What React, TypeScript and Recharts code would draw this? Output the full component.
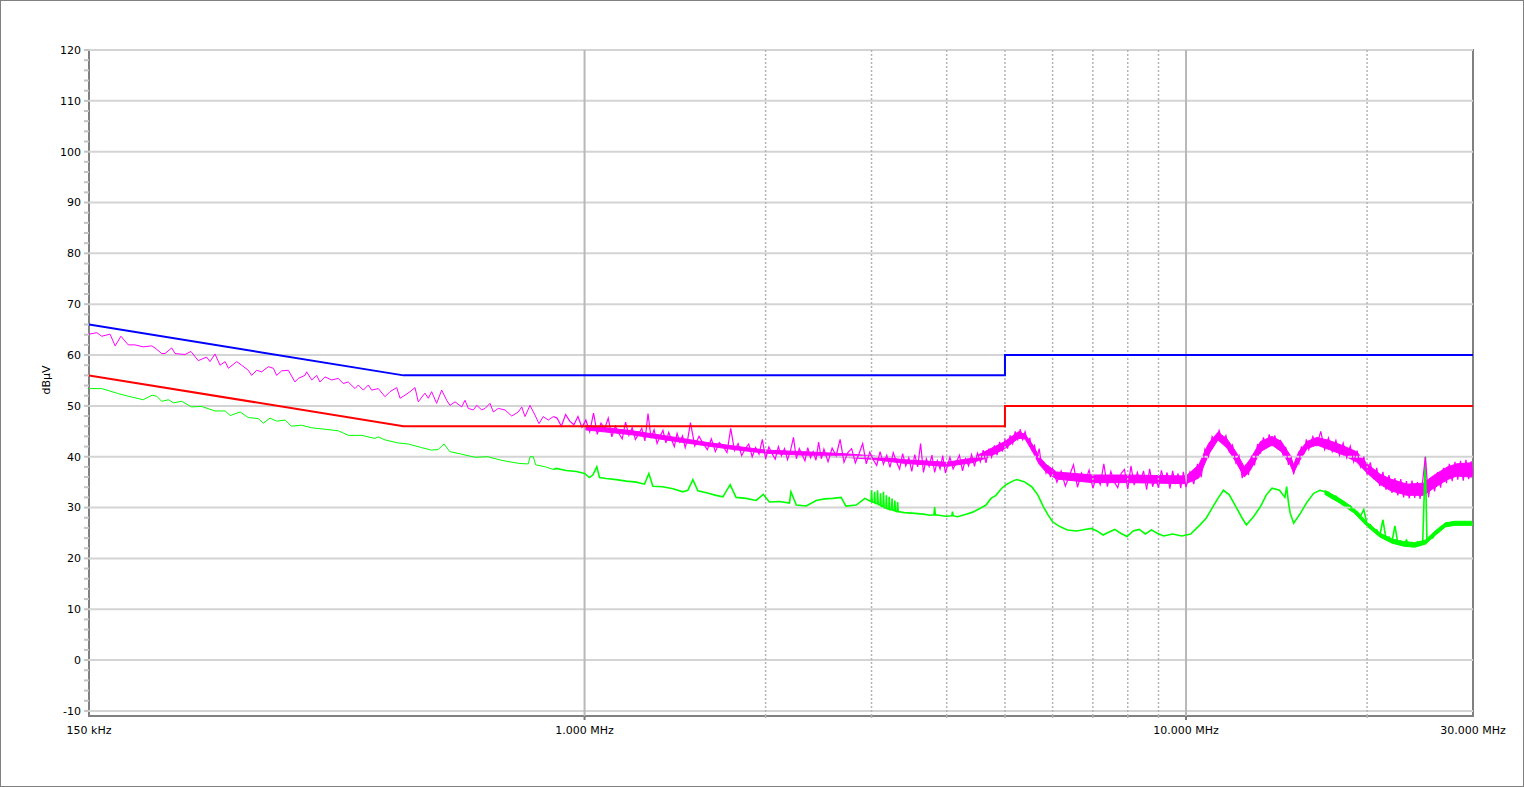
import React from 'react';
import { ComposedChart, Line, Area, XAxis, YAxis, ReferenceLine, ReferenceArea } from 'recharts';

const FONT = '"DejaVu Sans", Verdana, Tahoma, sans-serif';

// Limit lines, frequency in MHz, level in dBµV
const limitFreq = [0.15, 0.5, 5, 5, 30];
const qpLimit = [66, 56, 56, 60, 60];
const avLimit = [56, 46, 46, 50, 50];

// Peak (magenta) trace, [MHz, dBµV]
const peakScanA: [number, number][] = [
  [0.150, 64.1], [0.1545, 64.4], [0.1575, 63.7], [0.1626, 64.1], [0.1658, 61.8], [0.1695, 63.7], [0.1743, 62.0], [0.1788, 62.0],
  [0.1846, 61.6], [0.1907, 61.8], [0.1931, 61.4], [0.1981, 60.3], [0.2007, 60.3], [0.2059, 61.4], [0.2085, 60.3], [0.2166, 60.1],
  [0.2216, 60.7], [0.2279, 58.9], [0.2353, 59.6], [0.2383, 58.7], [0.2430, 60.2], [0.2477, 58.0], [0.2526, 58.7], [0.2558, 57.4],
  [0.2641, 58.7], [0.2691, 58.0], [0.2760, 57.0], [0.2796, 56.0], [0.2850, 57.0], [0.2905, 56.7], [0.2980, 57.7], [0.3038, 57.4],
  [0.3077, 56.0], [0.3137, 56.9], [0.3217, 57.0], [0.3300, 54.7], [0.3342, 55.4], [0.3429, 56.0], [0.3451, 56.7], [0.3519, 55.1],
  [0.3586, 56.0], [0.3631, 54.7], [0.3702, 55.7], [0.3798, 55.1], [0.3896, 55.4], [0.3970, 54.4], [0.4047, 54.7], [0.4153, 53.4],
  [0.4206, 54.1], [0.4287, 53.1], [0.4370, 54.1], [0.4426, 53.1], [0.4541, 53.4], [0.4658, 51.8], [0.4748, 52.8], [0.4872, 53.6],
  [0.4934, 51.5], [0.5030, 52.1], [0.5127, 52.8], [0.5225, 53.6], [0.5291, 50.8], [0.5428, 52.5], [0.5498, 51.5], [0.5569, 52.8],
  [0.5676, 50.5], [0.5787, 53.1], [0.5899, 51.1], [0.5975, 50.1], [0.6090, 50.8], [0.6248, 49.8], [0.6327, 51.1], [0.6408, 49.5],
  [0.6533, 49.2], [0.6618, 50.1], [0.6746, 49.2], [0.6831, 49.5], [0.6963, 50.5], [0.7052, 48.8], [0.7188, 49.5], [0.7374, 49.2],
  [0.7568, 48.0], [0.7760, 48.8], [0.7862, 49.8], [0.7961, 47.9], [0.8115, 50.1], [0.8271, 48.2], [0.8400, 46.5], [0.8538, 47.9],
  [0.8704, 47.2], [0.8873, 47.9],
];
const peakScanB: [number, number][] = [
  [0.900, 47.6], [0.915, 46.0], [0.930, 48.3], [0.945, 47.0], [0.960, 46.3], [0.975, 47.9], [0.990, 45.8], [1.005, 47.2],
  [1.020, 44.9], [1.035, 48.6], [1.050, 44.4], [1.065, 46.6], [1.080, 45.5], [1.095, 47.6], [1.110, 43.9], [1.125, 46.0],
  [1.140, 44.6], [1.155, 43.5], [1.170, 46.8], [1.185, 44.2], [1.200, 45.7], [1.215, 43.4], [1.230, 44.5], [1.245, 45.6],
  [1.260, 43.1], [1.275, 48.5], [1.290, 43.6], [1.305, 45.3], [1.320, 42.6], [1.335, 44.0], [1.350, 45.2], [1.365, 42.7],
  [1.380, 44.8], [1.395, 43.4], [1.410, 42.0], [1.425, 44.6], [1.440, 42.9], [1.455, 44.1], [1.470, 41.8], [1.485, 43.6],
  [1.500, 46.7],
];
const peakScanC: [number, number][] = [
  [1.525, 42.1], [1.550, 44.0], [1.575, 42.6], [1.600, 41.4], [1.625, 43.5], [1.650, 41.0], [1.675, 42.8], [1.700, 42.0],
  [1.725, 40.8], [1.750, 45.6], [1.775, 41.2], [1.800, 42.6], [1.825, 40.2], [1.850, 41.6], [1.875, 42.5], [1.900, 40.0],
  [1.925, 41.8], [1.950, 40.5], [1.975, 43.4], [2.000, 39.6], [2.025, 41.9], [2.050, 40.6], [2.075, 39.5], [2.100, 42.0],
  [2.125, 40.2], [2.150, 41.6], [2.175, 39.4], [2.200, 41.2], [2.225, 43.8], [2.250, 39.6], [2.275, 41.6], [2.300, 40.4],
  [2.325, 39.2], [2.350, 41.8], [2.375, 39.8], [2.400, 41.0], [2.425, 39.3], [2.450, 42.9], [2.475, 39.6], [2.500, 41.5],
];
const peakScanD: [number, number][] = [
  [2.54, 39.0], [2.58, 41.7], [2.62, 40.2], [2.66, 43.4], [2.70, 38.9], [2.74, 40.8], [2.78, 41.6], [2.82, 38.8],
  [2.86, 40.6], [2.90, 42.6], [2.94, 38.6], [2.98, 40.9], [3.02, 39.4], [3.06, 38.3], [3.10, 41.0], [3.14, 38.5],
  [3.18, 40.3], [3.22, 37.9], [3.26, 40.8], [3.30, 39.0], [3.34, 37.6], [3.38, 40.6], [3.42, 38.2], [3.46, 39.8],
  [3.50, 37.1], [3.54, 40.4], [3.58, 38.0], [3.62, 42.6], [3.66, 36.9], [3.70, 39.6], [3.74, 38.1], [3.78, 40.3],
  [3.82, 36.9], [3.86, 39.2], [3.90, 37.6], [3.94, 40.2], [3.98, 36.8],
];
const peakScanE: [number, number][] = [
  [4.05, 39.9], [4.10, 37.6], [4.15, 38.9], [4.20, 40.3], [4.25, 37.2], [4.30, 39.6], [4.35, 38.2], [4.40, 40.4],
  [4.45, 38.1], [4.50, 40.7], [4.55, 39.0], [4.60, 41.3], [4.65, 38.8], [4.70, 41.6], [4.75, 39.9], [4.80, 42.2],
  [4.85, 40.3], [4.90, 42.9], [4.95, 41.0], [5.00, 43.3], [5.05, 41.6], [5.10, 44.2], [5.15, 42.6], [5.20, 45.0],
  [5.25, 43.2], [5.30, 45.4], [5.35, 43.4], [5.40, 44.9], [5.45, 43.0], [5.50, 43.6], [5.55, 41.2], [5.60, 42.2],
  [5.65, 39.6], [5.70, 41.6], [5.75, 38.4], [5.80, 38.9], [5.85, 36.8], [5.90, 38.0], [5.95, 36.0], [6.00, 37.6],
];
const peakScanF: [number, number][] = [
  [6.1, 35.0], [6.2, 37.2], [6.3, 34.2], [6.4, 36.3], [6.5, 38.4], [6.6, 34.0], [6.7, 36.8], [6.8, 35.2],
  [6.9, 37.4], [7.0, 33.8], [7.1, 36.2], [7.2, 34.5], [7.3, 38.6], [7.4, 34.1], [7.5, 37.1], [7.6, 35.0],
  [7.7, 33.9], [7.8, 36.7], [7.9, 37.5], [8.0, 33.6], [8.1, 38.2], [8.2, 34.4], [8.3, 36.9], [8.4, 35.1],
  [8.5, 37.2], [8.6, 33.5], [8.7, 37.6], [8.8, 34.1], [8.9, 36.0], [9.0, 33.9], [9.1, 37.3], [9.2, 35.0],
  [9.3, 36.9], [9.4, 33.7], [9.5, 37.2], [9.6, 34.6], [9.7, 36.7], [9.8, 33.8], [9.9, 37.0], [10.0, 34.0],
];
const peakScanG: [number, number][] = [
  [10.15, 37.0], [10.30, 34.6], [10.45, 38.6], [10.60, 36.0], [10.75, 41.5], [10.90, 40.0], [11.05, 44.0], [11.20, 42.8],
  [11.35, 45.2], [11.50, 43.0], [11.65, 44.2], [11.80, 41.0], [11.95, 42.3], [12.10, 38.8], [12.25, 40.2], [12.40, 35.8],
  [12.55, 38.2], [12.70, 36.4], [12.85, 40.2], [13.00, 38.3], [13.15, 42.5], [13.30, 40.6], [13.45, 43.8], [13.60, 41.7],
  [13.75, 44.4], [13.90, 42.1], [14.05, 44.2], [14.20, 41.5], [14.35, 43.3], [14.50, 40.4], [14.65, 41.9], [14.80, 38.4],
  [14.95, 39.8], [15.10, 36.5], [15.25, 39.6], [15.40, 38.6], [15.55, 42.0], [15.70, 40.5], [15.85, 43.4], [16.00, 41.4],
];
const peakScanH: [number, number][] = [
  [16.25, 44.0], [16.50, 42.2], [16.75, 45.0], [17.00, 41.4], [17.25, 43.7], [17.50, 41.0], [17.75, 43.2], [18.00, 40.3],
  [18.25, 42.7], [18.50, 39.8], [18.75, 42.1], [19.00, 39.0], [19.25, 41.2], [19.50, 38.0], [19.75, 40.0], [20.00, 36.5],
  [20.25, 38.9], [20.50, 35.6], [20.75, 37.8], [21.00, 34.2], [21.25, 37.0], [21.50, 33.5], [21.75, 36.4], [22.00, 32.9],
  [22.25, 35.8], [22.50, 32.4], [22.75, 35.6], [23.00, 32.0], [23.25, 35.2], [23.50, 31.8], [23.75, 35.3], [24.00, 31.9],
  [24.25, 35.0], [24.50, 31.7], [24.75, 35.4], [25.00, 40.0],
];
const peakScanI: [number, number][] = [
  [25.30, 32.0], [25.60, 36.0], [25.90, 33.2], [26.20, 37.0], [26.50, 33.9], [26.80, 37.8], [27.10, 34.8], [27.40, 38.6],
  [27.70, 35.2], [28.00, 39.0], [28.30, 35.5], [28.60, 39.2], [28.90, 35.3], [29.20, 39.4], [29.50, 35.6], [29.80, 39.1],
  [30.00, 36.0],
];

// Dense core of the peak trace, [MHz, low dBµV, high dBµV]
const peakCore: [number, number, number][] = [
  [1.0, 45.3, 46.2], [1.2, 44.3, 45.1], [1.4, 43.1, 43.9], [1.6, 42.1, 42.8], [1.8, 41.3, 42.0], [2.0, 40.7, 41.3],
  [2.3, 40.3, 41.0], [2.7, 39.9, 40.6], [3.0, 39.5, 40.2], [3.4, 38.7, 39.4], [4.0, 38.1, 38.9], [4.4, 38.8, 39.7],
  [4.7, 39.9, 41.4], [5.0, 41.6, 43.0], [5.26, 43.6, 44.9], [5.4, 43.5, 44.4], [5.57, 40.8, 42.2], [5.7, 38.5, 40.0],
  [5.85, 37.0, 38.5], [6.09, 35.6, 37.0], [7.0, 34.9, 36.4], [8.0, 34.9, 36.4], [9.0, 34.8, 36.3], [10.0, 34.7, 36.2],
  [10.5, 35.8, 38.4], [10.9, 40.4, 42.6], [11.3, 43.3, 44.8], [11.7, 41.7, 43.5], [12.1, 39.0, 41.0], [12.5, 36.0, 38.0],
  [12.8, 37.4, 39.6], [13.3, 41.0, 43.0], [13.9, 42.3, 44.0], [14.4, 41.0, 43.0], [14.9, 38.4, 40.3], [15.1, 36.8, 38.4],
  [15.4, 39.0, 41.0], [15.9, 41.6, 43.0], [16.5, 42.3, 43.8], [17.3, 41.4, 43.2], [18.2, 40.4, 42.2], [19.2, 39.0, 41.0],
  [20.0, 36.8, 38.6], [21.0, 34.6, 36.6], [21.9, 33.3, 35.6], [23.3, 32.4, 34.6], [24.8, 32.4, 34.8], [25.8, 33.8, 36.3],
  [27.2, 35.5, 38.0], [28.2, 36.2, 38.6], [29.8, 36.0, 38.8], [30.0, 36.0, 38.8],
];

// Average (green) trace, [MHz, dBµV]
const avgScanA: [number, number][] = [
  [0.150, 53.4], [0.1575, 53.4], [0.168, 52.4], [0.1743, 51.9], [0.1846, 51.2], [0.191, 52.1], [0.1944, 51.9], [0.1981, 50.9],
  [0.2033, 51.2], [0.2073, 50.6], [0.2140, 50.9], [0.2221, 49.8], [0.2307, 49.9], [0.2430, 49.0], [0.2526, 49.0], [0.2575, 48.1],
  [0.2676, 48.8], [0.2760, 47.7], [0.2869, 47.5], [0.2924, 46.6], [0.2999, 47.6], [0.3077, 47.0], [0.318, 47.2], [0.3255, 46.0],
  [0.3382, 46.2], [0.3514, 45.7], [0.3702, 45.4], [0.3896, 45.1], [0.4049, 44.2], [0.4261, 44.2], [0.4479, 43.6], [0.4541, 43.9],
  [0.466, 43.3], [0.4903, 42.7], [0.5093, 42.5], [0.5354, 41.8], [0.5563, 41.3], [0.5707, 41.4], [0.5840, 42.5], [0.5968, 41.0],
  [0.6248, 40.5], [0.6570, 39.9], [0.6907, 40.0], [0.7268, 39.3], [0.776, 38.7], [0.7961, 38.6], [0.8063, 38.6], [0.8115, 40.0],
  [0.8219, 40.0], [0.8293, 38.4], [0.8612, 38.0], [0.8873, 37.5],
];
const avgScanB: [number, number][] = [
  [0.897, 37.7], [0.932, 37.3], [0.969, 37.1], [1.0, 36.7], [1.019, 35.9], [1.032, 36.4], [1.048, 38.0], [1.059, 35.9],
  [1.086, 35.7], [1.129, 35.5], [1.173, 35.2], [1.219, 35.0], [1.258, 34.6], [1.279, 36.7], [1.299, 34.2], [1.349, 34.1],
  [1.403, 33.7], [1.457, 33.1], [1.485, 33.4], [1.514, 35.5], [1.543, 33.3], [1.594, 32.9], [1.655, 32.4], [1.698, 32.1],
  [1.746, 34.5], [1.786, 32.0], [1.856, 31.8], [1.929, 31.4], [1.982, 32.6], [2.029, 31.1], [2.109, 31.2], [2.191, 30.9],
  [2.204, 33.1], [2.249, 30.5], [2.336, 30.3], [2.428, 31.4], [2.506, 31.7], [2.586, 31.8], [2.670, 32.0], [2.720, 30.3],
  [2.830, 30.5], [2.924, 31.8], [2.981, 31.3],
];
const avgScanC: [number, number][] = [
  [2.995, 31.2], [3.00, 33.4], [3.008, 31.1], [3.03, 31.0], [3.035, 33.1], [3.043, 30.8], [3.065, 30.8], [3.07, 33.4],
  [3.078, 30.6], [3.10, 30.5], [3.105, 32.8], [3.113, 30.3], [3.135, 30.2], [3.14, 33.1], [3.148, 30.0], [3.17, 29.9],
  [3.175, 32.4], [3.183, 29.8], [3.205, 29.7], [3.21, 32.1], [3.218, 29.6], [3.24, 29.6], [3.245, 31.8], [3.253, 29.5],
  [3.275, 29.4], [3.28, 31.4], [3.288, 29.3], [3.31, 29.2], [3.315, 31.1], [3.323, 29.2], [3.40, 29.0], [3.50, 28.9],
  [3.66, 28.7], [3.75, 28.5], [3.81, 28.6], [3.82, 30.1], [3.83, 28.6], [3.99, 28.3], [4.08, 28.4], [4.09, 29.2],
  [4.10, 28.4], [4.17, 28.2], [4.31, 28.7], [4.42, 29.1], [4.54, 29.8], [4.65, 30.5], [4.74, 31.8], [4.83, 32.4],
  [4.93, 33.7], [5.02, 34.5], [5.15, 35.2], [5.23, 35.5],
];
const avgScanD: [number, number][] = [
  [5.38, 35.1], [5.54, 34.1], [5.67, 32.5], [5.79, 30.2], [5.90, 28.5], [6.0, 27.2], [6.14, 26.4], [6.35, 25.6],
  [6.58, 25.4], [6.79, 25.7], [6.96, 25.9], [7.11, 25.4], [7.28, 24.6], [7.45, 25.2], [7.61, 25.7], [7.80, 24.9],
  [7.98, 24.3], [8.17, 25.4], [8.36, 25.7], [8.56, 24.8], [8.76, 25.6], [8.97, 24.9], [9.18, 24.4], [9.50, 24.8],
  [9.84, 24.4], [10.18, 24.8], [10.55, 26.6], [10.8, 27.9], [11.0, 29.5], [11.3, 31.8], [11.54, 33.4], [11.8, 32.5],
  [12.1, 30.2], [12.4, 27.9], [12.6, 26.6], [12.95, 28.2], [13.3, 30.2], [13.6, 32.5], [13.9, 33.8], [14.3, 33.4],
  [14.6, 32.0], [14.7, 34.1], [14.8, 31.0], [14.9, 28.9], [15.1, 26.9], [15.5, 28.9], [15.9, 31.1], [16.3, 32.8],
  [16.7, 33.4], [17.0, 33.1],
];
const avgScanE: [number, number][] = [
  [17.25, 33.0], [17.50, 32.3], [17.75, 32.2], [18.00, 31.3], [18.25, 31.2], [18.50, 30.4], [18.75, 30.3], [19.00, 29.3],
  [19.25, 29.2], [19.50, 28.3], [19.75, 29.6], [20.00, 26.7], [20.25, 26.6], [20.50, 25.5], [20.75, 25.6], [21.00, 24.5],
  [21.25, 27.6], [21.50, 23.9], [21.75, 24.2], [22.00, 23.3], [22.25, 26.4], [22.50, 23.0], [22.75, 23.4], [23.00, 22.7],
  [23.25, 23.6], [23.50, 22.6], [23.75, 23.1], [24.00, 22.5], [24.25, 23.2], [24.50, 22.6], [24.75, 23.3], [25.00, 40.0],
  [25.15, 23.2], [25.40, 23.9], [25.70, 24.0], [26.00, 25.0], [26.30, 25.2], [26.60, 26.2], [26.90, 26.3], [27.20, 27.0],
  [27.50, 26.6], [27.80, 27.1], [28.10, 26.7], [28.40, 27.1], [28.70, 26.7], [29.00, 27.2], [29.30, 26.6], [29.60, 27.1],
  [29.90, 26.7], [30.00, 26.9],
];
// Dense core of the average trace, [MHz, low dBµV, high dBµV]
const avgCore: [number, number, number][] = [
  [17.0, 32.6, 33.4], [18.0, 30.9, 31.8], [19.0, 29.0, 29.9], [20.0, 26.3, 27.1], [21.0, 24.2, 25.0], [22.0, 23.0, 23.8],
  [23.0, 22.4, 23.3], [24.0, 22.2, 23.1], [25.0, 22.8, 23.6], [26.0, 24.6, 25.5], [27.0, 26.2, 27.0], [28.0, 26.5, 27.3],
  [29.0, 26.5, 27.3], [30.0, 26.5, 27.3],
];

// Axis ticks and labels
const xTicks = [0.15, 1, 2, 3, 4, 5, 6, 7, 8, 9, 10, 20, 30];
const xSolidGrid = [1, 10];
const xDottedGrid = [2, 3, 4, 5, 6, 7, 8, 9, 20];
const xLabelValues = [0.15, 1, 10, 30];
const xLabelTexts = ['150 kHz', '1.000 MHz', '10.000 MHz', '30.000 MHz'];
const yTicks = [
  -10, -8, -6, -4, -2, 0, 2, 4, 6, 8, 10, 12, 14, 16, 18, 20, 22, 24, 26, 28, 30, 32, 34, 36, 38, 40,
  42, 44, 46, 48, 50, 52, 54, 56, 58, 60, 62, 64, 66, 68, 70, 72, 74, 76, 78, 80, 82, 84, 86, 88, 90,
  92, 94, 96, 98, 100, 102, 104, 106, 108, 110, 112, 114, 116, 118, 120,
];
const yLabelTicks = [-10, 0, 10, 20, 30, 40, 50, 60, 70, 80, 90, 100, 110, 120];
const yDomain = [-11, 120];
const xDomain = [0.15, 30];

type Row = {
  f: number; qp?: number; av?: number; pkLow?: number; pkHigh?: number; avgLow?: number; avgHigh?: number;
  pkCore?: [number, number]; avgCore?: [number, number];
};

function buildRows(): Row[] {
  const rows: Row[] = [];
  limitFreq.forEach((f, i) => rows.push({ f, qp: qpLimit[i] }));
  limitFreq.forEach((f, i) => rows.push({ f, av: avLimit[i] }));
  peakScanA.forEach(([f, v]) => rows.push({ f, pkLow: v }));
  const pkHighSegs = [peakScanB, peakScanC, peakScanD, peakScanE, peakScanF, peakScanG, peakScanH, peakScanI];
  const lastPkA = peakScanA[peakScanA.length - 1];
  rows.push({ f: lastPkA[0], pkHigh: lastPkA[1] });
  pkHighSegs.forEach((seg) => seg.forEach(([f, v]) => rows.push({ f, pkHigh: v })));
  avgScanA.forEach(([f, v]) => rows.push({ f, avgLow: v }));
  const lastAvgA = avgScanA[avgScanA.length - 1];
  rows.push({ f: lastAvgA[0], avgHigh: lastAvgA[1] });
  [avgScanB, avgScanC, avgScanD, avgScanE].forEach((seg) => seg.forEach(([f, v]) => rows.push({ f, avgHigh: v })));
  peakCore.forEach(([f, lo, hi]) => rows.push({ f, pkCore: [lo, hi] }));
  avgCore.forEach(([f, lo, hi]) => rows.push({ f, avgCore: [lo, hi] }));
  rows.sort((a, b) => a.f - b.f);
  return rows;
}

const data = buildRows();

function XTick(props: any) {
  const { x, y, payload } = props;
  const v = payload.value;
  const axisY = y - 10;
  const li = xLabelValues.indexOf(v);
  return (
    <g>
      {xSolidGrid.includes(v) && <line x1={x} x2={x} y1={axisY} y2={axisY + 4} stroke="#7a7a7a" strokeWidth={2} />}
      {xDottedGrid.includes(v) && (
        <line x1={x} x2={x} y1={axisY} y2={axisY + 3} stroke="#b4b4b4" strokeWidth={1.5} strokeDasharray="2 2" />
      )}
      {li >= 0 && (
        <text x={x} y={y} dy="0.71em" textAnchor="middle" fontFamily={FONT} fontSize={11} fill="#000">
          {xLabelTexts[li]}
        </text>
      )}
    </g>
  );
}

function YTick(props: any) {
  const { x, y, payload } = props;
  if (!yLabelTicks.includes(payload.value)) return <g />;
  return (
    <text x={x} y={y} dy="0.355em" textAnchor="end" fontFamily={FONT} fontSize={11} fill="#000">
      {payload.value}
    </text>
  );
}

function YLabel(props: any) {
  const vb = props.viewBox || { x: 0, y: 50, width: 89, height: 666 };
  const cx = vb.x + vb.width * 0.52;
  const cy = vb.y + vb.height / 2 - 3;
  return (
    <text x={cx} y={cy} transform={`rotate(-90 ${cx} ${cy})`} textAnchor="middle" dominantBaseline="central"
      fontFamily={FONT} fontSize={11} fill="#000">
      dBµV
    </text>
  );
}

const lineCommon = { dot: false, activeDot: false, connectNulls: true, isAnimationActive: false, type: 'linear' as const };

export default function App() {
  return (
    <div style={{ position: 'absolute', left: 0, top: 0, width: 1524, height: 787, background: '#fff', overflow: 'hidden' }}>
      <ComposedChart width={1524} height={787} data={data} margin={{ top: 50, right: 51, bottom: 41, left: 0 }}>
        <XAxis dataKey="f" type="number" scale="log" domain={xDomain} allowDataOverflow ticks={xTicks} interval={0}
          height={30} axisLine={false} tickLine={false} tickSize={4} tickMargin={6} tick={<XTick />} />
        <YAxis type="number" domain={yDomain} allowDataOverflow ticks={yTicks} interval={0} width={89}
          axisLine={false} tickLine={{ stroke: '#c4c4c4', strokeWidth: 2 }} tickSize={5} tickMargin={3}
          tick={<YTick />} label={{ content: <YLabel /> }} />
        {yLabelTicks.map((v) => (
          <ReferenceLine key={'h' + v} y={v} stroke="#d4d4d4" strokeWidth={2} />
        ))}
        {xSolidGrid.map((v) => (
          <ReferenceLine key={'vs' + v} x={v} stroke="#b8b8b8" strokeWidth={2} />
        ))}
        {xDottedGrid.map((v) => (
          <ReferenceLine key={'vd' + v} x={v} stroke="#b4b4b4" strokeWidth={1.5} strokeDasharray="2 2" />
        ))}
        <Area dataKey="avgCore" stroke="#00ff00" strokeWidth={1} fill="#00ff00" fillOpacity={1} connectNulls
          isAnimationActive={false} type="linear" activeDot={false} />
        <Line dataKey="avgLow" stroke="#00ff00" strokeWidth={1} {...lineCommon} />
        <Line dataKey="avgHigh" stroke="#00ff00" strokeWidth={1.6} {...lineCommon} />
        <Area dataKey="pkCore" stroke="#ff00ff" strokeWidth={1} fill="#ff00ff" fillOpacity={1} connectNulls
          isAnimationActive={false} type="linear" activeDot={false} />
        <Line dataKey="pkLow" stroke="#ff00ff" strokeWidth={1} {...lineCommon} />
        <Line dataKey="pkHigh" stroke="#ff00ff" strokeWidth={1.2} {...lineCommon} />
        <Line dataKey="av" stroke="#ff0000" strokeWidth={2} {...lineCommon} />
        <Line dataKey="qp" stroke="#0000ff" strokeWidth={2} {...lineCommon} />
        <ReferenceArea x1={xDomain[0]} x2={xDomain[1]} y1={yDomain[0]} y2={yDomain[1]} fill="none" stroke="#808080"
          strokeWidth={2} ifOverflow="visible" />
      </ComposedChart>
      <div style={{ position: 'absolute', left: 0, top: 0, width: 1524, height: 787, boxSizing: 'border-box',
        border: '1px solid #808080', pointerEvents: 'none' }} />
    </div>
  );
}
